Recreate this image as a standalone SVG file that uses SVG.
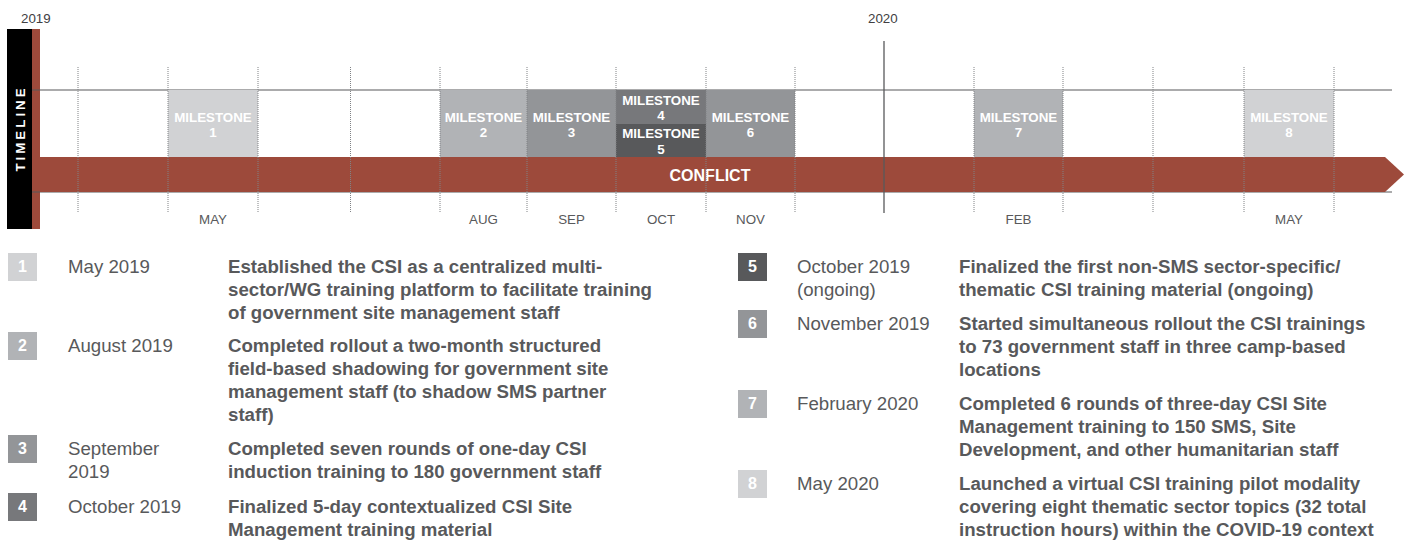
<svg xmlns="http://www.w3.org/2000/svg" width="1405" height="540" viewBox="0 0 1405 540">
<style>
.yr{font-family:"Liberation Sans",Arial,sans-serif;font-size:13.33px;fill:#414042}
.mo{font-family:"Liberation Sans",Arial,sans-serif;font-size:13.33px;fill:#58595b;text-anchor:middle}
.ms{font-family:"Liberation Sans",Arial,sans-serif;font-size:13.33px;font-weight:bold;fill:#ffffff;text-anchor:middle}
.dot{stroke:#808285;stroke-width:1;stroke-dasharray:1 1;fill:none}
.hl{stroke:#58595b;stroke-width:1.2;fill:none}
.num{font-family:"Liberation Sans",Arial,sans-serif;font-size:16px;font-weight:bold;fill:#ffffff;text-anchor:middle}
.dt{font-family:"Liberation Sans",Arial,sans-serif;font-size:18.67px;fill:#58595b}
.ds{font-family:"Liberation Sans",Arial,sans-serif;font-size:18.67px;font-weight:bold;fill:#58595b}
</style>

<g id="timeline-frame">
  <text class="yr" x="21" y="23">2019</text>
  <text class="yr" x="868" y="23">2020</text>
  <rect x="7" y="29" width="25" height="200" fill="#000000"/>
  <rect x="32" y="29" width="8" height="200" fill="#9d4a3b"/>
  <text transform="translate(25,130) rotate(-90)" x="1.5" y="0" font-family="Liberation Sans, Arial, sans-serif" font-size="13.33" font-weight="bold" letter-spacing="3" fill="#ffffff" text-anchor="middle">TIMELINE</text>
  <line class="hl" x1="32" y1="90" x2="1392" y2="90"/>
  <line class="hl" x1="32" y1="192" x2="1392" y2="192"/>
</g>

<g id="milestone-1">
  <rect x="168" y="90" width="90" height="67" fill="#d1d2d4"/>
  <text class="ms" x="213" y="122">MILESTONE</text>
  <text class="ms" x="213" y="137">1</text>
</g>
<g id="milestone-2">
  <rect x="440" y="90" width="87" height="67" fill="#b1b3b6"/>
  <text class="ms" x="483.5" y="122">MILESTONE</text>
  <text class="ms" x="483.5" y="137">2</text>
</g>
<g id="milestone-3">
  <rect x="527" y="90" width="89" height="67" fill="#939598"/>
  <text class="ms" x="571.5" y="122">MILESTONE</text>
  <text class="ms" x="571.5" y="137">3</text>
</g>
<g id="milestone-4">
  <rect x="616" y="90" width="90" height="34" fill="#77787b"/>
  <text class="ms" x="661" y="105">MILESTONE</text>
  <text class="ms" x="661" y="120">4</text>
</g>
<g id="milestone-5">
  <rect x="616" y="124" width="90" height="33" fill="#58595b"/>
  <text class="ms" x="661" y="138">MILESTONE</text>
  <text class="ms" x="661" y="154">5</text>
</g>
<g id="milestone-6">
  <rect x="706" y="90" width="89" height="67" fill="#939598"/>
  <text class="ms" x="750.5" y="122">MILESTONE</text>
  <text class="ms" x="750.5" y="137">6</text>
</g>
<g id="milestone-7">
  <rect x="974" y="90" width="89" height="67" fill="#b1b3b6"/>
  <text class="ms" x="1018.5" y="122">MILESTONE</text>
  <text class="ms" x="1018.5" y="137">7</text>
</g>
<g id="milestone-8">
  <rect x="1244" y="90" width="90" height="67" fill="#d1d2d4"/>
  <text class="ms" x="1289" y="122">MILESTONE</text>
  <text class="ms" x="1289" y="137">8</text>
</g>

<g id="conflict">
  <polygon points="40,157 1385,157 1404,174.5 1385,192 40,192" fill="#9d4a3b"/>
  <text x="710" y="181" font-family="Liberation Sans, Arial, sans-serif" font-size="16" font-weight="bold" fill="#ffffff" text-anchor="middle">CONFLICT</text>
</g>

<g id="connectors">
  <line class="dot" x1="78" y1="67" x2="78" y2="213"/>
  <line class="dot" x1="168" y1="67" x2="168" y2="213"/>
  <line class="dot" x1="258" y1="67" x2="258" y2="213"/>
  <line class="dot" x1="350.5" y1="67" x2="350.5" y2="213"/>
  <line class="dot" x1="440" y1="67" x2="440" y2="213"/>
  <line class="dot" x1="527" y1="67" x2="527" y2="213"/>
  <line class="dot" x1="616" y1="67" x2="616" y2="213"/>
  <line class="dot" x1="706" y1="67" x2="706" y2="213"/>
  <line class="dot" x1="795" y1="67" x2="795" y2="213"/>
  <line class="dot" x1="974" y1="67" x2="974" y2="213"/>
  <line class="dot" x1="1063" y1="67" x2="1063" y2="213"/>
  <line class="dot" x1="1153" y1="67" x2="1153" y2="213"/>
  <line class="dot" x1="1244" y1="67" x2="1244" y2="213"/>
  <line class="dot" x1="1334" y1="67" x2="1334" y2="213"/>
  <line x1="884" y1="41" x2="884" y2="213" stroke="#58595b" stroke-width="1.3"/>
</g>

<g id="months">
  <text class="mo" x="213" y="224">MAY</text>
  <text class="mo" x="483.5" y="224">AUG</text>
  <text class="mo" x="571.5" y="224">SEP</text>
  <text class="mo" x="661" y="224">OCT</text>
  <text class="mo" x="750.5" y="224">NOV</text>
  <text class="mo" x="1018.5" y="224">FEB</text>
  <text class="mo" x="1289" y="224">MAY</text>
</g>

<g id="legend-1">
  <rect x="8" y="253" width="29" height="28" fill="#d1d2d4"/>
  <text class="num" x="22.5" y="272">1</text>
  <text class="dt" x="68" y="273">May 2019</text>
  <text class="ds" x="228" y="273">Established the CSI as a centralized multi-</text>
  <text class="ds" x="228" y="296">sector/WG training platform to facilitate training</text>
  <text class="ds" x="228" y="319">of government site management staff</text>
</g>
<g id="legend-2">
  <rect x="8" y="332" width="29" height="28" fill="#b1b3b6"/>
  <text class="num" x="22.5" y="351">2</text>
  <text class="dt" x="68" y="352">August 2019</text>
  <text class="ds" x="228" y="352">Completed rollout a two-month structured</text>
  <text class="ds" x="228" y="375">field-based shadowing for government site</text>
  <text class="ds" x="228" y="398">management staff (to shadow SMS partner</text>
  <text class="ds" x="228" y="421">staff)</text>
</g>
<g id="legend-3">
  <rect x="8" y="435" width="29" height="28" fill="#939598"/>
  <text class="num" x="22.5" y="454">3</text>
  <text class="dt" x="68" y="455">September</text>
  <text class="dt" x="68" y="478">2019</text>
  <text class="ds" x="228" y="455">Completed seven rounds of one-day CSI</text>
  <text class="ds" x="228" y="478">induction training to 180 government staff</text>
</g>
<g id="legend-4">
  <rect x="8" y="493" width="29" height="28" fill="#77787b"/>
  <text class="num" x="22.5" y="512">4</text>
  <text class="dt" x="68" y="513">October 2019</text>
  <text class="ds" x="228" y="513">Finalized 5-day contextualized CSI Site</text>
  <text class="ds" x="228" y="536">Management training material</text>
</g>

<g id="legend-5">
  <rect x="738" y="253" width="29" height="28" fill="#58595b"/>
  <text class="num" x="752.5" y="272">5</text>
  <text class="dt" x="797" y="273">October 2019</text>
  <text class="dt" x="797" y="296">(ongoing)</text>
  <text class="ds" x="959" y="273">Finalized the first non-SMS sector-specific/</text>
  <text class="ds" x="959" y="296">thematic CSI training material (ongoing)</text>
</g>
<g id="legend-6">
  <rect x="738" y="310" width="29" height="28" fill="#939598"/>
  <text class="num" x="752.5" y="329">6</text>
  <text class="dt" x="797" y="330">November 2019</text>
  <text class="ds" x="959" y="330">Started simultaneous rollout the CSI trainings</text>
  <text class="ds" x="959" y="353">to 73 government staff in three camp-based</text>
  <text class="ds" x="959" y="376">locations</text>
</g>
<g id="legend-7">
  <rect x="738" y="390" width="29" height="28" fill="#b1b3b6"/>
  <text class="num" x="752.5" y="409">7</text>
  <text class="dt" x="797" y="410">February 2020</text>
  <text class="ds" x="959" y="410">Completed 6 rounds of three-day CSI Site</text>
  <text class="ds" x="959" y="433">Management training to 150 SMS, Site</text>
  <text class="ds" x="959" y="456">Development, and other humanitarian staff</text>
</g>
<g id="legend-8">
  <rect x="738" y="470" width="29" height="28" fill="#d1d2d4"/>
  <text class="num" x="752.5" y="489">8</text>
  <text class="dt" x="797" y="490">May 2020</text>
  <text class="ds" x="959" y="490">Launched a virtual CSI training pilot modality</text>
  <text class="ds" x="959" y="513">covering eight thematic sector topics (32 total</text>
  <text class="ds" x="959" y="536">instruction hours) within the COVID-19 context</text>
</g>
</svg>
